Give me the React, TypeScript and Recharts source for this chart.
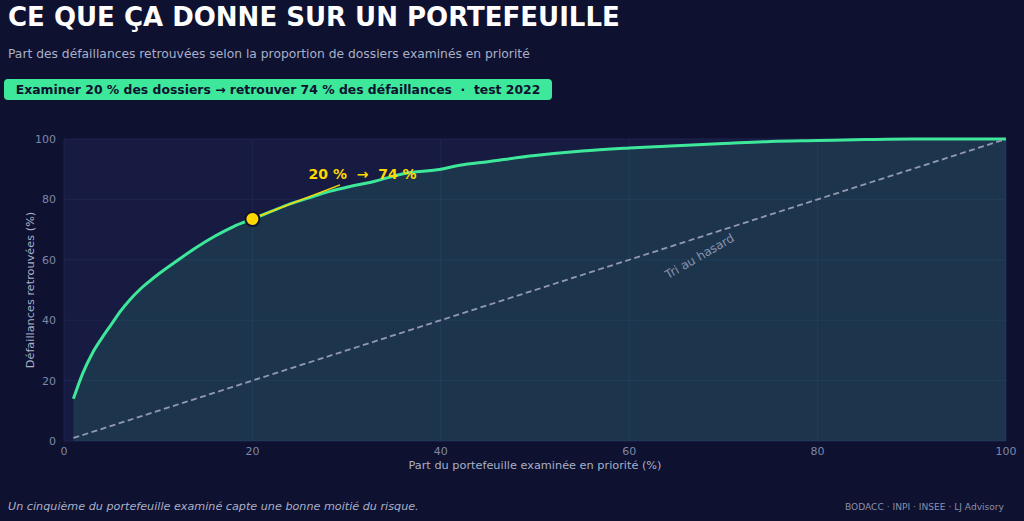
import {
  ComposedChart,
  Area,
  Line,
  XAxis,
  YAxis,
  CartesianGrid,
  ReferenceDot,
  ReferenceLine,
} from 'recharts'

// share of portfolio reviewed (%) -> share of defaults found (%)
const reviewed = [1, 2, 3, 4, 5, 6, 7, 8, 9, 10, 12, 14, 16, 18, 20, 22, 24, 26, 28, 30, 33, 36, 40, 42, 45, 50, 55, 60, 65, 70, 75, 80, 85, 90, 95, 100]
const found = [14, 22.5, 29, 34, 38.5, 43, 46.8, 50, 52.7, 55.2, 59.7, 64, 67.8, 71, 73.5, 76, 78.5, 80.5, 82.5, 84, 86, 88.5, 90, 91.3, 92.5, 94.5, 96, 97, 97.8, 98.5, 99.2, 99.5, 99.8, 100, 100, 100]

const randomX = [1, 100]
const randomY = [1, 100]

const ticks = [0, 20, 40, 60, 80, 100]

const highlightX = 20
const highlightY = 73.5

const curve = reviewed.map((x, i) => ({ x, y: found[i] }))
const randomLine = randomX.map((x, i) => ({ x, r: randomY[i] }))

const FONT = '"DejaVu Sans", sans-serif'
const GREEN = '#3ee89a'
const YELLOW = '#ffd700'

function HasardLabel({ cx, cy }: any) {
  return (
    <text
      x={cx}
      y={cy}
      fill="#8a92b0"
      fontSize={12}
      fontFamily={FONT}
      textAnchor="middle"
      dominantBaseline="middle"
      transform={`rotate(-30 ${cx} ${cy})`}
    >
      Tri au hasard
    </text>
  )
}

function AnnotText({ cx, cy }: any) {
  return (
    <text
      x={cx}
      y={cy}
      fill={YELLOW}
      fontSize={14}
      fontWeight="bold"
      fontFamily={FONT}
      textAnchor="middle"
      dominantBaseline="middle"
      style={{ whiteSpace: 'pre' }}
    >
      {'20 %  →  74 %'}
    </text>
  )
}

export default function App() {
  return (
    <div
      style={{
        position: 'absolute',
        left: 0,
        top: 0,
        width: 1024,
        height: 521,
        background: '#0e1130',
        fontFamily: FONT,
        overflow: 'hidden',
      }}
    >
      <div style={{ position: 'absolute', left: 8, top: 2, color: '#ffffff', fontSize: 26, fontWeight: 'bold' }}>
        CE QUE ÇA DONNE SUR UN PORTEFEUILLE
      </div>
      <div style={{ position: 'absolute', left: 8, top: 47, color: '#a9b0c8', fontSize: 12.3 }}>
        Part des défaillances retrouvées selon la proportion de dossiers examinés en priorité
      </div>
      <div
        style={{
          position: 'absolute',
          left: 4,
          top: 79,
          width: 548,
          height: 21,
          background: GREEN,
          borderRadius: 4,
          color: '#0e1130',
          fontSize: 12.4,
          fontWeight: 'bold',
          lineHeight: '21px',
          textAlign: 'center',
          whiteSpace: 'pre',
        }}
      >
        {'Examiner 20 % des dossiers → retrouver 74 % des défaillances  ·  test 2022'}
      </div>

      <div style={{ position: 'absolute', left: 0, top: 0 }}>
        <ComposedChart width={1024} height={521} margin={{ top: 139, right: 18, bottom: 50, left: 14 }}>
          <CartesianGrid stroke="#1f2551" fill="#171b42" strokeWidth={1} />
          <XAxis
            dataKey="x"
            type="number"
            domain={[0, 100]}
            ticks={ticks}
            axisLine={false}
            tickLine={false}
            tick={{ fontSize: 11, fill: '#7f87a6', fontFamily: FONT }}
            height={30}
            tickMargin={0}
            allowDuplicatedCategory={false}
            label={{
              value: 'Part du portefeuille examinée en priorité (%)',
              position: 'insideBottom',
              offset: 2,
              fill: '#a9b0c8',
              fontSize: 11.3,
              fontFamily: FONT,
            }}
          />
          <YAxis
            type="number"
            domain={[0, 100]}
            ticks={ticks}
            axisLine={false}
            tickLine={false}
            tick={{ fontSize: 11, fill: '#7f87a6', fontFamily: FONT }}
            width={50}
            tickMargin={2}
            label={{
              value: 'Défaillances retrouvées (%)',
              angle: -90,
              position: 'insideLeft',
              offset: 16,
              fill: '#a9b0c8',
              fontSize: 11.3,
              fontFamily: FONT,
              style: { textAnchor: 'middle' },
            }}
          />
          <ReferenceLine
            segment={[
              { x: 29.3, y: 84.8 },
              { x: 20.8, y: 74.6 },
            ]}
            stroke={YELLOW}
            strokeWidth={1.5}
          />
          <ReferenceDot x={31.7} y={88.2} r={0} shape={(p: any) => <AnnotText {...p} />} />
          <Area
            data={curve}
            dataKey="y"
            type="monotone"
            stroke={GREEN}
            strokeWidth={3}
            fill={GREEN}
            fillOpacity={0.13}
            isAnimationActive={false}
            dot={false}
            activeDot={false}
          />
          <Line
            data={randomLine}
            dataKey="r"
            type="linear"
            stroke="#9399b5"
            strokeWidth={1.8}
            strokeDasharray="6 3.5"
            dot={false}
            activeDot={false}
            isAnimationActive={false}
          />
          <ReferenceDot x={67.5} y={61} r={0} shape={(p: any) => <HasardLabel {...p} />} />
          <ReferenceDot x={highlightX} y={highlightY} r={7} fill={YELLOW} stroke="#0e1130" strokeWidth={2} />
        </ComposedChart>
      </div>

      <div style={{ position: 'absolute', left: 8, top: 500, color: '#a9b0c8', fontSize: 11.2, fontStyle: 'italic' }}>
        Un cinquième du portefeuille examiné capte une bonne moitié du risque.
      </div>
      <div style={{ position: 'absolute', right: 20, top: 502, color: '#8a90a8', fontSize: 9.1 }}>
        BODACC · INPI · INSEE · LJ Advisory
      </div>
    </div>
  )
}
